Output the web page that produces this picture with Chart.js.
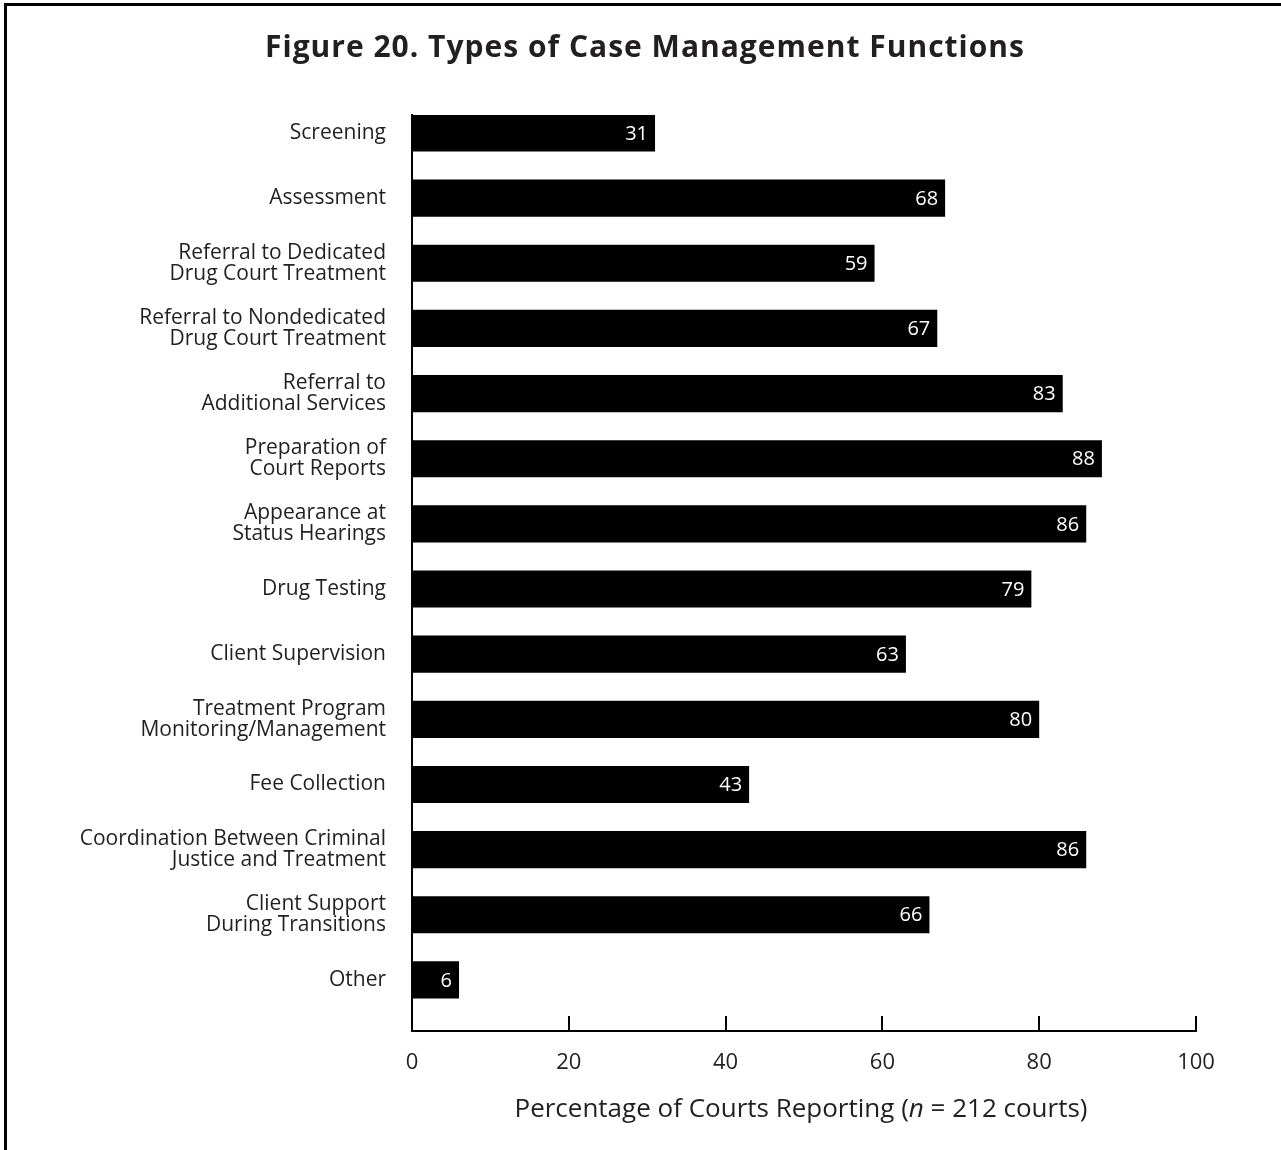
<!DOCTYPE html>
<html>
<head>
<meta charset="utf-8">
<script src="https://cdn.jsdelivr.net/npm/chart.js"></script>
<style>
  html, body { margin: 0; padding: 0; background: #fff; }
  #wrap { position: relative; width: 1281px; height: 1150px; overflow: hidden; }
  #frame { position: absolute; left: 4px; top: 3px; width: 1300px; height: 1200px;
           border-left: 3px solid #000; border-top: 3px solid #000; pointer-events: none; }
</style>
</head>
<body>
<div id="wrap">
  <canvas id="myChart" width="1281" height="1150"></canvas>
  <div id="frame"></div>
</div>
<script>
// categories (multi-line labels) and percentages
const categories = [
  ['Screening'],
  ['Assessment'],
  ['Referral to Dedicated', 'Drug Court Treatment'],
  ['Referral to Nondedicated', 'Drug Court Treatment'],
  ['Referral to', 'Additional Services'],
  ['Preparation of', 'Court Reports'],
  ['Appearance at', 'Status Hearings'],
  ['Drug Testing'],
  ['Client Supervision'],
  ['Treatment Program', 'Monitoring/Management'],
  ['Fee Collection'],
  ['Coordination Between Criminal', 'Justice and Treatment'],
  ['Client Support', 'During Transitions'],
  ['Other']
];
const percentages = [31, 68, 59, 67, 83, 88, 86, 79, 63, 80, 43, 86, 66, 6];
const xTicks = [0, 20, 40, 60, 80, 100];

const chartTitle = 'Figure 20. Types of Case Management Functions';
const textColor = '#231f20';
const fontFamily = '"Open Sans", Lato, sans-serif';

// figure title, centred on the page rather than on the plot
const pageTitle = {
  id: 'pageTitle',
  afterDraw(chart) {
    const ctx = chart.ctx;
    ctx.save();
    ctx.fillStyle = textColor;
    ctx.font = 'bold 30px ' + fontFamily;
    if ('letterSpacing' in ctx) ctx.letterSpacing = '1px';
    ctx.textAlign = 'center';
    ctx.textBaseline = 'middle';
    ctx.fillText(chartTitle, 645, 48);
    ctx.restore();
  }
};

// white value labels inside the bar ends
const valueLabels = {
  id: 'valueLabels',
  afterDatasetsDraw(chart) {
    const ctx = chart.ctx;
    const meta = chart.getDatasetMeta(0);
    ctx.save();
    ctx.fillStyle = '#fff';
    ctx.font = '20px ' + fontFamily;
    ctx.textAlign = 'right';
    ctx.textBaseline = 'middle';
    meta.data.forEach((bar, i) => {
      ctx.fillText(String(percentages[i]), bar.x - 7, bar.y + 1);
    });
    ctx.restore();
  }
};

// tick marks pointing up from the x axis, plus the axis title with italic n
const xAxisExtras = {
  id: 'xAxisExtras',
  afterDraw(chart) {
    const ctx = chart.ctx;
    const x = chart.scales.x;
    const base = chart.chartArea.bottom;
    ctx.save();
    ctx.strokeStyle = '#000';
    ctx.lineWidth = 2;
    xTicks.forEach(v => {
      if (v === 0) return;
      const px = Math.round(x.getPixelForValue(v));
      ctx.beginPath();
      ctx.moveTo(px, base);
      ctx.lineTo(px, base - 15);
      ctx.stroke();
    });

    const parts = [
      { t: 'Percentage of Courts Reporting (', f: '26px ' + fontFamily },
      { t: 'n', f: 'italic 26px ' + fontFamily },
      { t: ' = 212 courts)', f: '26px ' + fontFamily }
    ];
    let total = 0;
    parts.forEach(p => { ctx.font = p.f; p.w = ctx.measureText(p.t).width; total += p.w; });
    let cx = (x.left + x.right) / 2 - total / 2 - 3;
    ctx.fillStyle = textColor;
    ctx.textBaseline = 'middle';
    ctx.textAlign = 'left';
    parts.forEach(p => { ctx.font = p.f; ctx.fillText(p.t, cx, 1110); cx += p.w; });
    ctx.restore();
  }
};

const ctx = document.getElementById('myChart').getContext('2d');
new Chart(ctx, {
  type: 'bar',
  data: {
    labels: categories,
    datasets: [{
      data: percentages,
      backgroundColor: '#000',
      borderWidth: 0,
      categoryPercentage: 1,
      barPercentage: 0.57
    }]
  },
  options: {
    indexAxis: 'y',
    responsive: false,
    animation: false,
    layout: { padding: { left: 0, right: 85, top: 115, bottom: 0 } },
    plugins: {
      legend: { display: false },
      tooltip: { enabled: false },
      title: { display: false }
    },
    scales: {
      x: {
        type: 'linear',
        min: 0,
        max: 100,
        afterBuildTicks: s => { s.ticks = xTicks.map(v => ({ value: v })); },
        afterFit: s => { s.height = 119; },
        grid: { display: false, drawTicks: false },
        border: { display: true, color: '#000', width: 2 },
        ticks: {
          color: textColor,
          padding: 19,
          font: { family: fontFamily, size: 22 }
        }
      },
      y: {
        type: 'category',
        offset: false,
        // leave more room below the last bar than above the first
        afterBuildTicks: s => { s._startValue = -0.276; s._valueRange = 14.06; },
        afterFit: s => { s.width = 412; },
        grid: { display: false, drawTicks: false },
        border: { display: true, color: '#000', width: 2 },
        ticks: {
          color: textColor,
          padding: 26,
          autoSkip: false,
          font: { family: fontFamily, size: 21, lineHeight: 1.0 }
        }
      }
    }
  },
  plugins: [pageTitle, valueLabels, xAxisExtras]
});
</script>
</body>
</html>
